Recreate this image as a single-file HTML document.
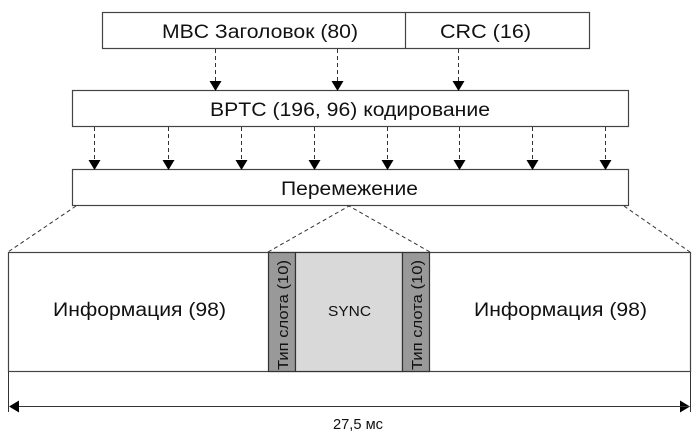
<!DOCTYPE html>
<html><head><meta charset="utf-8"><style>
body{margin:0;background:#fff}
svg{display:block;font-family:"Liberation Sans",sans-serif}
</style></head><body>
<svg width="699" height="440" viewBox="0 0 699 440" xmlns="http://www.w3.org/2000/svg">
<defs><marker id="a" markerWidth="10" markerHeight="12" refX="9" refY="6" orient="auto" markerUnits="userSpaceOnUse"><path d="M0,0 L10,6 L0,12z" fill="#000"/></marker></defs>
<g fill="#fff" stroke="#444" stroke-width="1.2">
<rect x="102.5" y="12.5" width="487" height="36"/>
<line x1="405.5" y1="12.5" x2="405.5" y2="48.5"/>
<rect x="72.5" y="90.5" width="556" height="36"/>
<rect x="72.5" y="169.5" width="556" height="36"/>
<rect x="8.5" y="252.5" width="682" height="119"/>
<rect x="268.5" y="252.5" width="27" height="119" fill="#999" stroke="#333"/>
<rect x="295.5" y="252.5" width="107" height="119" fill="#d9d9d9" stroke="#333"/>
<rect x="402.5" y="252.5" width="27" height="119" fill="#999" stroke="#333"/>
</g>
<g stroke="#333" stroke-dasharray="4,3" fill="none" marker-end="url(#a)">
<line x1="215.5" y1="49" x2="215.5" y2="90"/>
<line x1="337.5" y1="49" x2="337.5" y2="90"/>
<line x1="458.5" y1="49" x2="458.5" y2="90"/>
<line x1="94.5" y1="127" x2="94.5" y2="169"/>
<line x1="168.5" y1="127" x2="168.5" y2="169"/>
<line x1="241.5" y1="127" x2="241.5" y2="169"/>
<line x1="314.5" y1="127" x2="314.5" y2="169"/>
<line x1="387.5" y1="127" x2="387.5" y2="169"/>
<line x1="459.5" y1="127" x2="459.5" y2="169"/>
<line x1="532.5" y1="127" x2="532.5" y2="169"/>
<line x1="605.5" y1="127" x2="605.5" y2="169"/>
</g>
<g stroke="#333" stroke-dasharray="4,3" fill="none">
<line x1="76" y1="206" x2="8" y2="252"/>
<line x1="624" y1="206" x2="690" y2="252"/>
<polyline points="268,252 349,206 430,252"/>
</g>
<g stroke="#333" fill="none">
<line x1="8.5" y1="372" x2="8.5" y2="412"/>
<line x1="690.5" y1="372" x2="690.5" y2="412"/>
<line x1="10" y1="406.5" x2="689" y2="406.5" marker-end="url(#a)"/>
<line x1="689" y1="406.5" x2="10" y2="406.5" marker-end="url(#a)"/>
</g>
<g font-size="19" fill="#111">
<text x="162" y="38" textLength="196" lengthAdjust="spacingAndGlyphs">MBC Заголовок (80)</text>
<text x="440" y="38" textLength="91" lengthAdjust="spacingAndGlyphs">CRC (16)</text>
<text x="210" y="116" textLength="280" lengthAdjust="spacingAndGlyphs">BPTC (196, 96) кодирование</text>
<text x="281" y="195" textLength="137" lengthAdjust="spacingAndGlyphs">Перемежение</text>
<text x="53" y="316" textLength="173" lengthAdjust="spacingAndGlyphs">Информация (98)</text>
<text x="474" y="316" textLength="173" lengthAdjust="spacingAndGlyphs">Информация (98)</text>
<text x="328" y="316" font-size="15" textLength="43" lengthAdjust="spacingAndGlyphs">SYNC</text>
<text x="333" y="429" font-size="15" textLength="50" lengthAdjust="spacingAndGlyphs">27,5 мс</text>
<text transform="translate(288,370) rotate(-90)" font-size="15" textLength="110" lengthAdjust="spacingAndGlyphs">Тип слота (10)</text>
<text transform="translate(422,370) rotate(-90)" font-size="15" textLength="110" lengthAdjust="spacingAndGlyphs">Тип слота (10)</text>
</g>
</svg>
</body></html>
